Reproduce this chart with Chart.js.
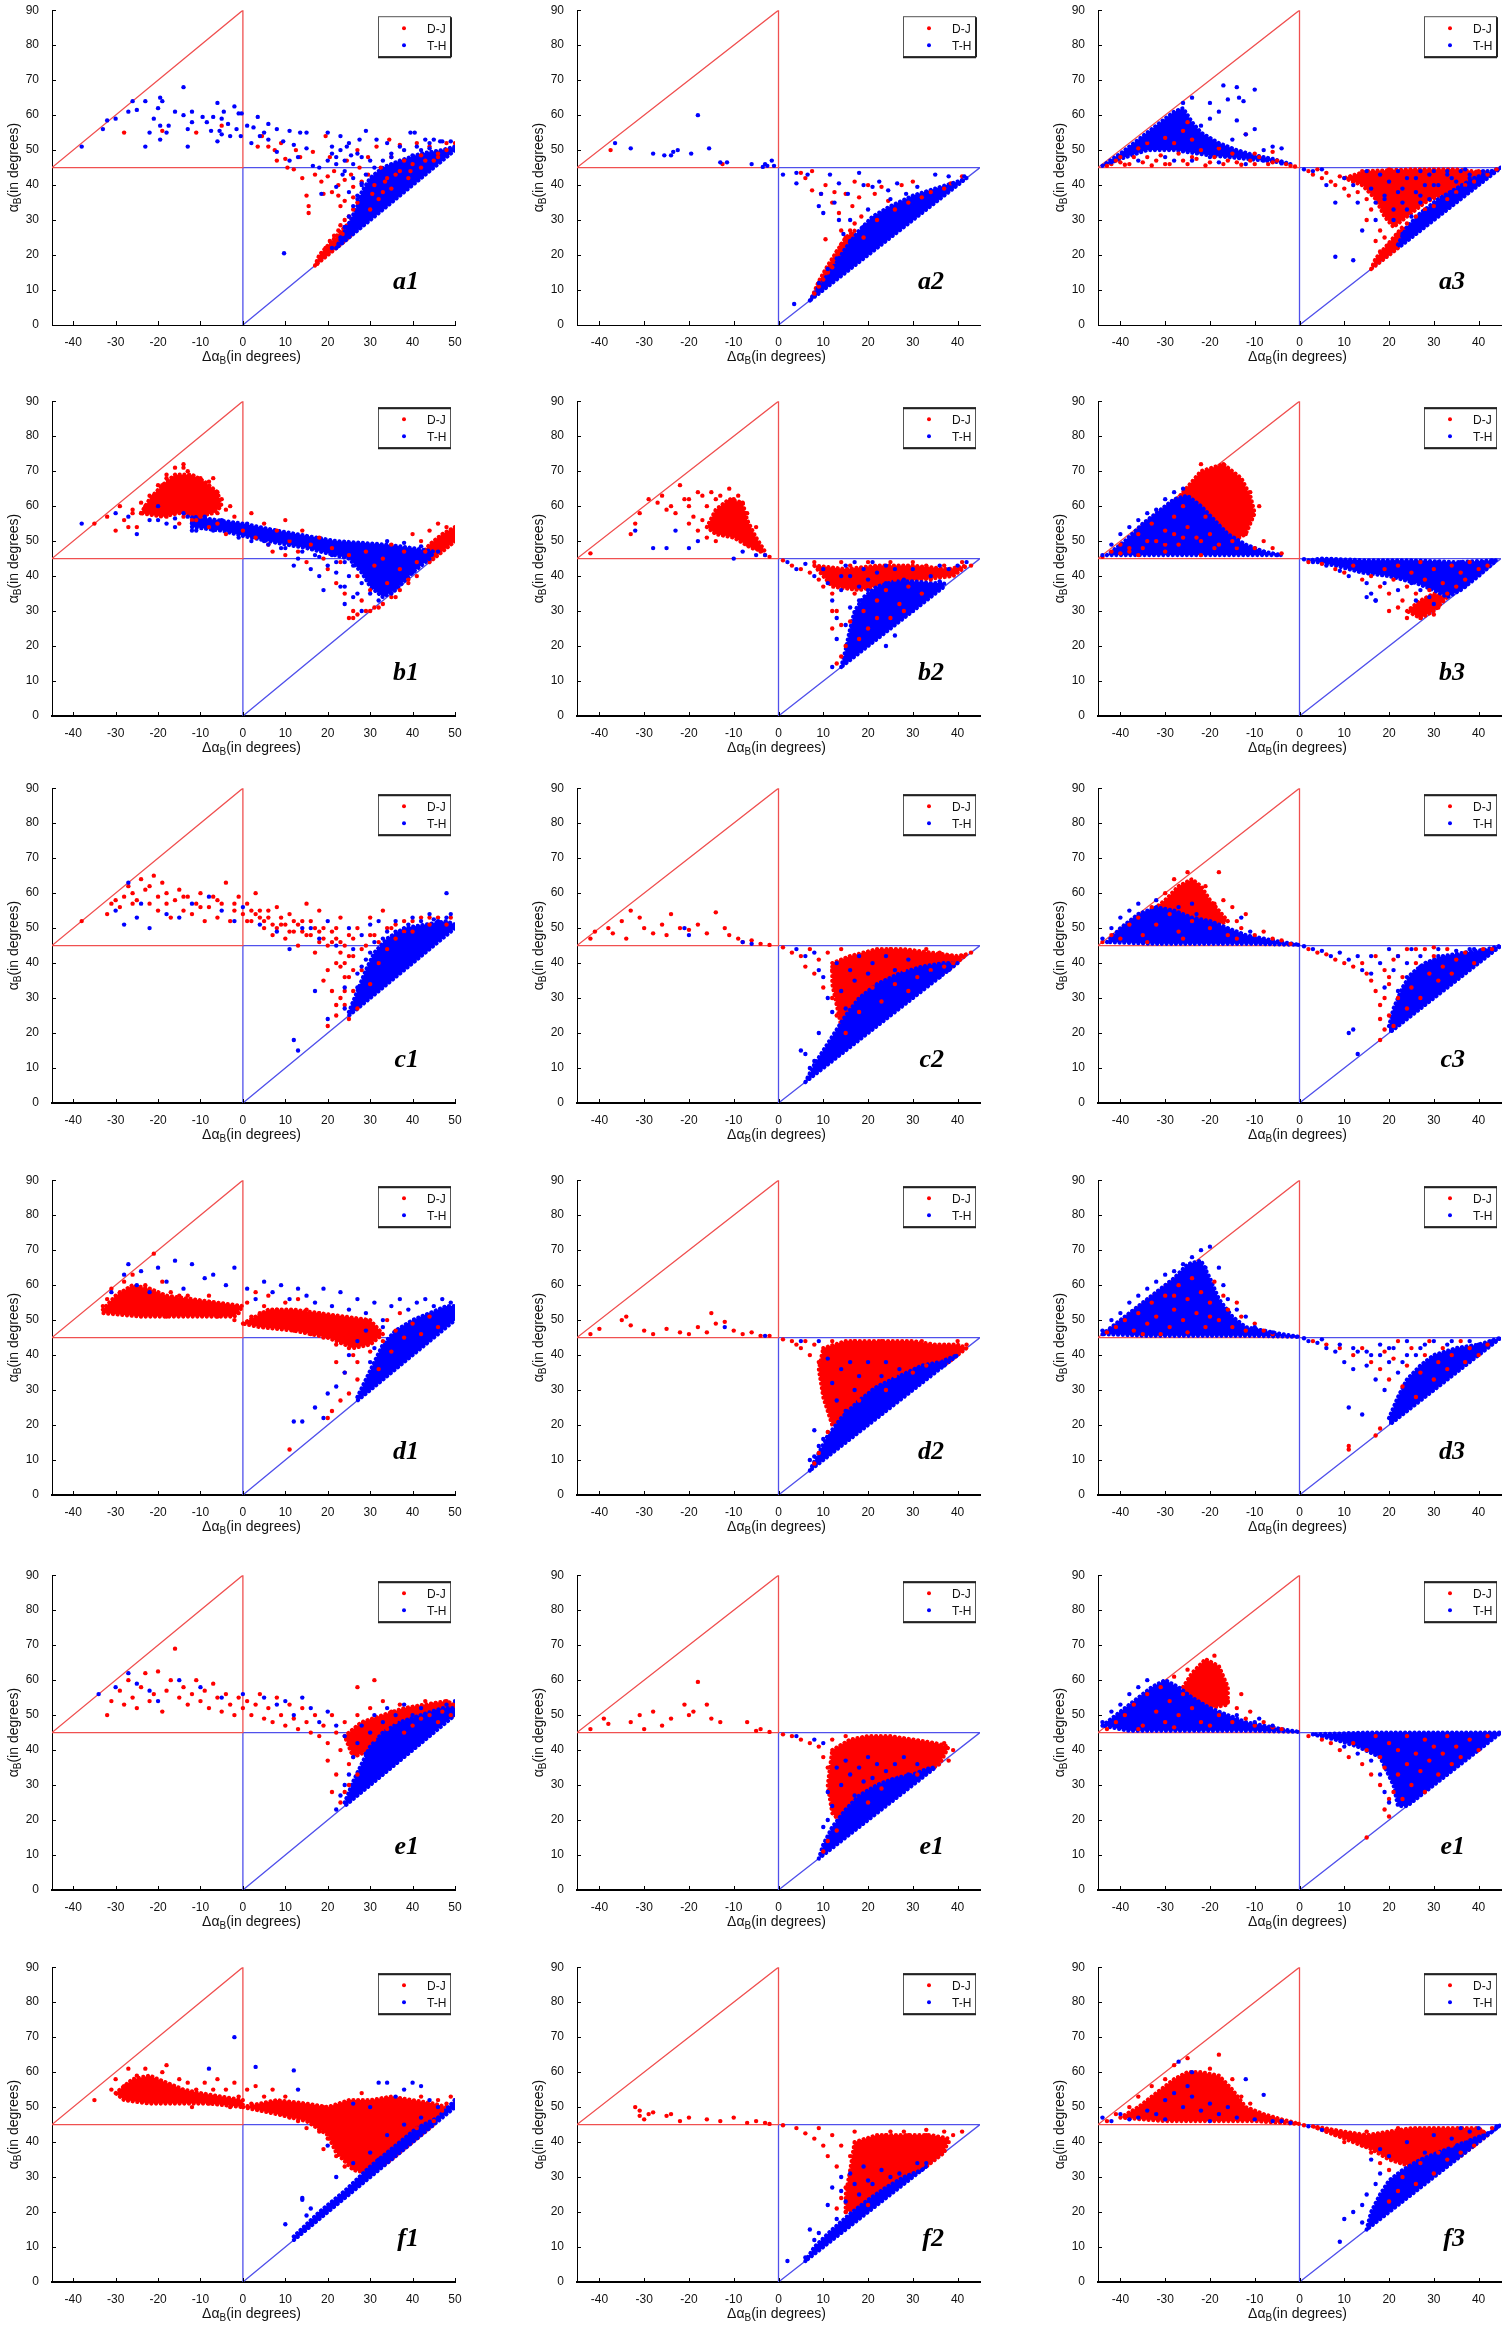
<!DOCTYPE html>
<html>
<head>
<meta charset="utf-8">
<script src="https://cdn.jsdelivr.net/npm/chart.js@4.4.1/dist/chart.umd.min.js"></script>
<style>
  html, body { margin: 0; padding: 0; background: #fff; overflow: hidden; }
  #wrap { position: relative; width: 1506px; height: 2328px; }
  #wrap canvas { position: absolute; }
</style>
</head>
<body>
<div id="wrap"></div>
<script>
// ---- tick labels / boundaries ----
const xTicksWide = [-40, -30, -20, -10, 0, 10, 20, 30, 40, 50];
const xTicksNarrow = [-40, -30, -20, -10, 0, 10, 20, 30, 40];
const yTicks = [0, 10, 20, 30, 40, 50, 60, 70, 80, 90];
const redTriangle = [[-45, 45], [0, 90], [0, 45], [-45, 45]];
const blueTriangle = [[0, 0], [45, 45], [0, 45], [0, 0]];

const panelIds = ['a1','a2','a3','b1','b2','b3','c1','c2','c3','d1','d2','d3','e1a','e1b','e1c','f1','f2','f3'];
const panelLabels = ['a1','a2','a3','b1','b2','b3','c1','c2','c3','d1','d2','d3','e1','e1','e1','f1','f2','f3'];

// ---- a1 ----
const a1_DJ = [[-28,55],[-19,55.5],[-11,55],[-5,57],[3.5,51],[4.5,54],[6,51],[7.5,50],[8,47],[9,52],[10,47.5],[10.5,45],[12,44.5],[12.5,50],[13.5,48],[14,42],[15,37],[15.5,34],[15.5,32],[16.5,49.5],[17,43],[18.5,41],[19,37.5],[19.5,54],[20.5,48],[20,42.5],[21,38],[21.5,44],[22.5,40],[22.5,37],[24,35.5],[23,34],[24,41.5],[24.5,47],[25.5,43],[26,39.5],[26,36.5],[27,50],[27.5,45],[28,41],[29.5,48],[29.5,43],[30.5,37.5],[31.5,51],[32.5,45],[33.5,41],[34.5,53],[35,48],[36,43],[37,51.5],[38,47],[39.5,44],[41,52],[42,48.5],[44,51],[46,48],[48,52],[50,52],[17.5,17.5],[18.5,19.5],[19.5,22],[20.5,24],[21.5,25.5],[22.5,27],[23,28.5],[24,30],[25,31],[26,33],[27,35],[19,20],[21,22.5],[23.5,26],[31,40],[34,42],[37,44],[40,46],[43,47],[46,49],[32,36],[35,39],[39,42],[42,45],[45,47],[48,50],[30,33],[33,38]];
const a1_TH = [[-38,51],[-33,56],[-32,58.5],[-30,59],[-26,64],[-27,61],[-25,61.5],[-23,64],[-23,51],[-22,55],[-21,59],[-20,62],[-19.5,65],[-19.5,53],[-19,64],[-19.5,57],[-18,55],[-17.5,57],[-16,61],[-14,68],[-14,60],[-13,51],[-13,56],[-12,61],[-12,58],[-9.5,59.5],[-8.5,58],[-7.5,55.5],[-7,59.5],[-6,63.5],[-6,52.5],[-5.5,55.5],[-5,59],[-5,54.5],[-4.5,61],[-3.5,57.5],[-3,54],[-2,62.5],[-1,60.5],[-1.5,56],[-0.5,54],[-0.3,60.5],[1,57],[2,52],[2.5,56.5],[3.5,59.5],[4,54],[5,55],[6,57.5],[6,53],[8,56],[8,49.5],[9.5,52.5],[9.7,20.5],[11,55.5],[11,47],[12,51.5],[13,48],[13.5,55],[15,55],[15,50.5],[16.5,45.5],[18,45],[18.5,37.5],[20,55],[21,51],[22,39.5],[22,48],[23,54],[23.5,43],[24.5,51],[25.5,48.5],[27.5,53],[28,48],[29,55.5],[30,47],[31.5,53],[34,52],[35,48],[37,51],[39.5,55],[40.5,55],[42,50],[43,53],[45,53],[46.5,52.5],[49,52.5],[20,47],[21,49],[22,46],[23,50],[24,47],[25,52],[26,46],[27,49],[24,44],[26,42],[28,40],[25,38],[27,36],[23,25],[24,28],[25,31],[26,34],[27,37],[28,40.5],[29,43],[31,45],[33,47],[35,49],[38,50],[41,51],[44,52],[47,52.5],[21,22],[29,32],[32,41],[36,46],[40,48.5],[44,50.5]];
const a1_DJ_core = [[[17,17],[18,20],[21,24],[24,28],[26,30],[27,28],[25,25],[17,17]]];
const a1_TH_core = [[[22,22],[25,29],[27,34],[28,38],[30,42],[33,45],[37,47],[42,49],[47,50],[50,51],[50,50],[22,22]]];

// ---- a2 ----
const a2_DJ = [[-37.5,50],[-12.5,46],[5,43.5],[6,42],[7.5,44],[7.5,38.5],[9.5,37.5],[10.5,40],[10.5,24.5],[12,35],[12.5,38],[13.5,32],[14,27],[15,37.5],[16.5,34],[17,41],[18,36.5],[18.5,31],[20,40],[21.5,37.5],[23,39.5],[24.5,35.5],[27.5,40],[30,41],[32,36.5],[38.5,40.5],[41,42.5],[12.5,19],[12,16.5],[8,9],[9,11],[10,13],[11,15],[13,21],[14,23],[15,25],[16,27],[17,29],[26,33],[29,35],[34,38],[37,39],[22,30],[19,25]];
const a2_TH = [[-36.5,52],[-33,50.5],[-28,49],[-25.5,48.5],[-24,48.5],[-23.5,49.5],[-22.5,50],[-19.5,49],[-18,60],[-15.5,50.5],[-13,46.5],[-11.5,46.5],[-6,46],[-3.5,45.2],[-3,46],[-1.5,47],[-2.5,45.5],[-1,45.5],[1,43],[4,43.5],[4,40.5],[6.5,43],[9,34],[10,32],[11.5,43],[13.5,40.5],[13.5,30],[15.5,37.5],[18,43.5],[19,40],[21,39.5],[22.5,41],[24.5,38.5],[26.5,40.5],[28.5,37.5],[31,39.5],[35,43],[38,42.5],[41.5,42.5],[3.5,6],[9.5,37.5],[12.5,35],[14.5,26],[16,30],[20,33],[25,36],[30,36],[33,38],[36,39],[39,40.5],[27,34],[23,31.5],[19,28],[16,24],[13,19],[11,16],[9,12]];
const a2_DJ_core = [[[7.5,8],[9,12.5],[11,17],[13,21],[15,25],[17,27],[16,23],[13,17],[10,11],[7.5,8]]];
const a2_TH_core = [[[7,7],[9,11],[12,16],[15,22],[18,27],[21,31],[25,34],[30,37],[35,39],[40,41],[42,42],[7,7]]];

// ---- a3 ----
const a3_DJ = [[-34,52],[-30,53.5],[-28,52],[-25,58],[-24,53],[-22,50],[-18,50.5],[-12,54.5],[-10,49],[-6,49.5],[-36,50.5],[-40,48],[-38,46],[-30,46],[-26,47],[-20,46.5],[-14,46.5],[-26,55.5],[-42,46],[-40,46.5],[-34,48],[-32,47],[-24,48],[-16,47],[-10,46],[-6,46.5],[-2,45.5],[-43,45.5],[-41,47],[-39,45.8],[-37,48],[-35,46.5],[-33,45.6],[-31,48.5],[-29,46],[-27,49],[-25,46],[-23,47.5],[-21,45.6],[-19,48],[-17,46],[-15,49],[-13,45.8],[-11,47],[-9,48],[-7,46],[-5,47],[-3,46],[-1,45.3],[2,44],[3,43],[4,44.5],[5,42],[6,43.5],[7,41],[8,40],[9,42.5],[10,39],[11,37],[12,41],[13,38],[14,44],[15,36],[15,30],[16,33],[16,40],[17,42.5],[18,38],[18,27],[19,35],[20,44.5],[20,31],[21,40],[22,36],[23,43],[23,33],[24,39],[25,44],[25,36],[26,41],[27,38],[28,44],[28,33],[29,40],[30,37],[31,43],[32,39],[33,41],[34,44],[35,38],[36,42],[37,40],[38,43],[39,41],[40,44],[42,43],[44,44.5],[19,25],[20,23],[21,29],[17,24],[18,21],[22,26],[30,34],[33,36],[26,31],[24,29]];
const a3_TH = [[-17,68.5],[-14,68],[-13.5,65],[-12.5,64],[-10,67.3],[-20,63.5],[-18,61],[-16,64.5],[-20,59],[-22,57],[-26,63.5],[-24,65],[-24,56],[-14,58.5],[-10,56],[-12,54.5],[-6,51],[-4,50.5],[-22,53],[-18,51.5],[-15,53],[-28,60],[-30,57.5],[-32,55],[-26,53],[-34,53],[-8,50],[-20,48],[-28,47],[-16,48.5],[-42,46.5],[-36,47],[-30,48],[-24,47],[-18,46.5],[-12,46],[-8,47],[-4,46.2],[1,44.5],[3,44],[5,44.5],[6,40],[8,35],[8,19.5],[12,18.5],[10,42],[12,40],[13,35],[14,27],[15,44],[16,39],[17,35],[17,30],[18,43],[19,37],[20,41],[21,33],[22,44],[22,38],[23,35],[24,42],[25,31],[26,38],[27,44],[27,35],[28,40],[29,36],[30,44],[31,40],[32,35],[33,43],[34,38],[35,41],[36,44],[37,39],[38,42],[40,41],[41,44],[43,44],[28,32],[31,33],[26,29],[23,26],[35,37],[21,30],[24,33],[27,37],[30,40],[34,42],[38,43],[42,44],[19,36],[23,39],[26,42],[29,43],[33,44],[37,44.5]];
const a3_DJ_core = [[[16,16],[17,19],[19,22],[21,25],[23,28],[25,27],[22,22],[16,16]],[[10,42],[14,40],[17,36],[19,31],[21,28],[24,31],[28,35],[33,38],[38,41],[42,43.5],[35,44.5],[25,44.5],[15,44],[10,42]]];
const a3_TH_core = [[[-44,45.5],[-40,49],[-35,54],[-31,58],[-28,61],[-26,62],[-24,58],[-22,55],[-18,52],[-14,50],[-10,48.5],[-6,47.5],[-2,46],[-6,46.8],[-12,47.5],[-20,48.5],[-28,50],[-34,50],[-40,47.5],[-44,45.5]],[[22,23],[24,28],[27,32],[31,36],[35,39],[39,42],[43,44],[45,45],[22,22]]];

// ---- b1 ----
const b1_DJ = [[-35,55],[-32,57],[-30,53],[-29,60],[-28,56],[-26,58],[-25,54],[-24,61],[-22,59],[-21,63],[-19,66],[-18,69],[-16,71],[-14,72],[-13,70],[-11,67],[-10,64],[-7,68],[-5,62],[-3,60],[-2,57],[-9,60],[-15,62],[-17,58],[-12,56],[-6,55],[0,53],[2,58],[3,51],[5,55],[6,49],[8,53],[10,56],[11,50],[13,47],[14,53],[16,49],[18,51],[19,45],[20,42],[21,48],[22,38],[23,44],[24,35],[25,46],[26,30],[26,28],[27,40],[28,33],[29,47],[30,36],[31,43],[32,31],[33,45],[34,38],[35,49],[36,34],[37,42],[38,47],[39,39],[40,52],[41,44],[42,50],[43,47],[44,53],[45,49],[46,55],[47,51],[48,54],[49,52],[50,50],[10,46],[15,44],[7,47],[-4,52],[-8,54],[-23,60],[-22,63],[-20,66],[-18,68],[-14,71],[-10,68],[-8,67],[-6,64],[-4,59],[-6,58],[-10,57],[-14,57],[-18,57],[-20,59],[-24,58],[-26,59],[-27,54],[-15,55],[-11,56],[30,30],[31,31],[33,32],[35,34],[37,36],[39,38],[41,40],[29,30],[27,29],[25,28]];
const b1_TH = [[-38,55],[-30,58],[-27,57],[-25,52],[-22,56],[-20,60],[-18,55],[-16,54],[-14,58],[-12,53],[-9,57],[-7,53],[-5,56],[-3,54],[-1,51],[1,55],[3,53],[5,50],[7,52],[9,48],[11,51],[13,45],[15,49],[17,46],[18,40],[19,36],[20,43],[21,46],[22,41],[23,37],[24,44],[25,40],[26,34],[27,45],[28,38],[29,42],[30,35],[31,46],[32,40],[33,37],[34,44],[35,41],[36,45],[37,38],[38,43],[39,46],[40,41],[42,44],[44,46],[12,43],[16,42],[-10,55],[28,30],[24,32],[-11,53],[-13,57],[2,50],[6,49],[10,48],[14,47],[18,45.5],[22,44],[26,43],[30,48],[34,50],[38,49.5],[42,48.5],[46,47],[24,37],[27,35],[32,33],[35,35],[-20,56],[-16,56.5],[-12,55],[-8,56],[-4,55]];
const b1_DJ_core = [[[-24,58],[-22,62],[-19,66],[-16,69],[-12,69],[-9,67],[-6,64],[-5,60],[-7,58],[-11,57],[-15,58],[-19,57],[-24,58]],[[44,44],[47,47],[50,50],[50,54],[47,52],[44,49],[42,46],[44,44]]];
const b1_TH_core = [[[-12,54],[-5,53],[0,51.5],[8,49.5],[15,48],[20,46.5],[25,45],[28,41],[30,37],[33,34],[36,36],[40,41],[44,45],[45,47],[40,48],[34,49],[28,49.5],[22,50],[15,51.5],[8,53],[0,55],[-6,56],[-12,57],[-12,54]]];

// ---- b2 ----
const b2_DJ = [[-42,46.5],[-33,52],[-32,55],[-31,58],[-29,62],[-27,61],[-26,63],[-25,59],[-24,60],[-23,58],[-22,66],[-21,62],[-20,60],[-19,57],[-18,64],[-17,56],[-16,60],[-15,55],[-14,62],[-13,58],[-12,53],[-11,65],[-10,57],[-9,51],[-8,55],[-7,49],[-6,52],[-5,48],[-4,47],[-3,46],[-2,45.5],[-14,50],[-12,60],[-18,53],[-10,62],[-16,51],[-20,55],[-8,61],[-20,62],[-17,63],[-15,64],[-13,63],[-9,63],[-7,58],[-5,54],[1,44.5],[3,43],[5,42],[7,41],[8,44],[9,39],[10,37],[11,42],[12,35],[12,25],[13,30],[13,40],[14,17],[14,44],[15,38],[16,43],[17,35],[18,41],[19,30],[20,44],[21,38],[22,33],[23,42],[24,36],[25,44],[26,39],[27,32],[28,42],[29,37],[30,44],[31,40],[32,35],[33,43],[34,39],[35,41],[37,43],[39,41],[41,44],[43,43],[15,20],[13,15],[16,27],[18,22],[20,25],[25,28],[28,30],[22,28],[18,40],[22,39],[26,40],[30,40],[34,40.5],[12,30],[14,26]];
const b2_TH = [[-32,53],[-28,48],[-25,48],[-23,53],[-20,48],[-18,50],[-10,45],[-8,47],[-5,46],[-3,46],[2,44],[4,42],[6,43.5],[8,40],[10,42],[11,38],[12,33],[13,28],[13,22],[14,36],[15,43],[16,40],[17,44],[18,37],[19,42],[20,39],[21,44],[22,41],[24,43],[26,42],[28,39],[30,42],[32,38],[34,40],[36,43],[38,42],[40,43],[42,44],[12,14],[14,40],[24,20],[26,23],[30,30],[33,34],[20,36],[24,38],[28,37],[32,37],[36,38.5],[15,26],[16,31],[18,33]];
const b2_DJ_core = [[[-16,54],[-14,59],[-11,62],[-8,61],[-7,56],[-5,51],[-3,47],[-6,48],[-10,51],[-14,52],[-16,54]],[[8,43],[15,42],[22,43],[30,43],[38,42],[42,43],[39,40],[32,39],[25,38],[18,36],[12,37],[8,43]]];
const b2_TH_core = [[[14,14],[15,19],[16,25],[17,30],[19,34],[22,37],[26,38.5],[30,38.5],[34,38],[37,38],[37,37],[14,14]]];

// ---- b3 ----
const b3_DJ = [[-44,45.5],[-42,47],[-40,49],[-38,47],[-36,52],[-35,48],[-33,55],[-32,50],[-30,53],[-28,57],[-27,49],[-26,60],[-25,54],[-24,66],[-23,51],[-22,72],[-21,57],[-20,65],[-19,48],[-18,62],[-17,55],[-16,67],[-15,50],[-14,63],[-13,58],[-12,52],[-11,64],[-10,48],[-9,60],[-8,50],[-6,48],[-4,46.5],[-20,52],[-28,52],[-36,46],[-17,72],[-22,46],[-30,47],[-38,48],[-34,50],[-30,49],[-26,51],[-22,50],[-18,49],[-14,48],[-40,46.5],[2,44],[5,43.5],[8,42],[10,41],[12,43],[14,39],[16,40],[18,37],[19,42],[20,35],[21,39],[22,43],[23,33],[24,28],[24,37],[25,41],[26,30],[26,35],[27,44],[27,28],[28,32],[28,39],[29,36],[30,29],[30,42],[31,33],[32,38],[33,35],[34,43],[35,37],[36,41],[37,39],[38,44],[40,42],[42,43],[20,30],[22,31],[29,31],[31,31]];
const b3_TH = [[-44,46],[-42,49],[-40,52],[-38,54],[-36,56],[-34,58],[-32,59],[-30,62],[-28,64],[-26,65],[-24,60],[-22,57],[-20,55],[-18,52],[-16,50],[-14,49],[-12,48],[-8,47],[-5,46],[-36,48],[-30,50],[-24,52],[-32,53],[-26,55],[-20,49],[-15,47],[1,44.8],[3,44],[6,43],[9,41.5],[11,40],[13,42],[15,38],[16,35],[17,33],[18,41],[19,38],[21,44],[22,36],[23,40],[25,38],[26,44],[27,36],[28,42],[29,34],[30,39],[31,44],[32,36],[33,40],[34,38],[35,42],[36,44],[37,37],[38,40],[39,42],[41,44],[43,44.5],[15,34],[17,33],[30,32],[26,33]];
const b3_DJ_core = [[[-30,58],[-26,64],[-22,70],[-17,72],[-13,68],[-11,63],[-10,58],[-12,52],[-15,50],[-20,55],[-25,56],[-30,58]],[[24,30],[27,33],[30,35],[33,34],[30,30],[27,28],[24,30]]];
const b3_TH_core = [[[-43,46],[-39,50],[-35,55],[-31,59],[-28,62],[-25,63],[-22,60],[-19,56],[-16,52],[-12,49],[-8,47],[-4,46],[-10,46],[-20,46],[-30,46],[-43,46]],[[2,44.5],[8,43],[14,41],[20,40],[26,38],[30,36],[33,34],[36,36],[40,40],[44,44.5],[35,44],[25,44.5],[15,44.5],[5,45],[2,44.5]]];

// ---- c1 ----
const c1_DJ = [[-38,52],[-32,54],[-31,57],[-29,56],[-28,59],[-27,62],[-26,60],[-25,58],[-24,64],[-23,61],[-22,57],[-21,65],[-20,55],[-19,63],[-18,60],[-17,53],[-16,58],[-15,61],[-14,55],[-13,59],[-12,54],[-11,57],[-10,60],[-9,52],[-8,56],[-7,59],[-6,53],[-5,57],[-4,63],[-3,52],[-2,55],[-1,59],[0,54],[1,57],[2,52],[3,60],[4,55],[5,50],[6,53],[7,48],[8,56],[9,51],[10,47],[11,54],[12,49],[13,45],[14,52],[15,57],[16,48],[17,43],[18,55],[19,50],[20,38],[20,22],[21,46],[22,40],[22,25],[23,53],[24,36],[24,28],[25,48],[26,32],[26,42],[27,50],[28,38],[29,45],[30,53],[30,34],[31,48],[32,40],[33,55],[34,44],[35,50],[36,47],[38,52],[40,49],[42,53],[44,51],[46,53],[48,51],[49,53],[27,27],[23,30],[25,24],[19,35],[21,32],[-30,58],[-26,57],[-22,62],[-20,59],[-18,57],[-14,59],[-10,56],[-6,58],[-2,57],[2,55],[6,55],[10,51],[14,49],[18,49],[22,50],[24,45],[26,47],[23,39],[25,36],[22,28],[24,32],[26,38],[28,44],[30,48],[32,46],[34,50],[36,51],[38,49],[40,52],[44,53],[1,52],[3,54],[5,52],[7,51],[9,53],[11,49],[13,51],[15,48],[17,50],[19,47],[21,49],[23,46],[25,42],[24,40],[23,43],[22,47],[20,45],[18,46],[16,52],[12,52],[8,50],[4,53]];
const c1_TH = [[-30,55],[-28,51],[-27,63],[-25,53],[-24,57],[-22,50],[-18,54],[-15,53],[-12,57],[-8,59],[-5,55],[-2,52],[0,56],[4,51],[8,49],[11,44],[12,18],[13,15],[14,50],[17,32],[18,47],[20,24],[22,45],[24,33],[25,50],[26,44],[27,37],[28,48],[29,41],[30,51],[31,46],[32,52],[34,49],[36,52],[38,48],[40,53],[42,50],[44,54],[46,52],[48,60],[49,54],[20,52],[16,50],[26,28],[27,33],[28,39],[30,43],[33,47],[36,49],[39,51],[42,52],[45,52.5],[48,53],[24,27],[29,36],[31,40]];
const c1_DJ_core = [];
const c1_TH_core = [[[25,26],[27,32],[29,38],[31,43],[34,47],[38,50],[43,51],[48,52],[50,51],[50,50],[25,25]]];

// ---- c2 ----
const c2_DJ = [[-42,47],[-41,49],[-38,50],[-37,48.5],[-35,52],[-33,55],[-31,53],[-30,50],[-28,48.5],[-26,51],[-24,54],[-22,50],[-20,49.5],[-18,51],[-16,48.5],[-14,54.5],[-12,50],[-11,48],[-9,47],[-8,46],[-6,46.5],[-4,45.5],[-2,45.2],[-25,48],[-34,47],[1,44.5],[3,43],[5,42],[6,39],[7,44],[8,37],[9,41],[10,33],[11,43],[12,30],[12,38],[13,25],[14,35],[14,44],[15,20],[16,31],[17,40],[18,26],[19,36],[20,43],[21,33],[22,40],[23,29],[24,37],[25,44],[26,34],[27,41],[28,38],[29,32],[30,43],[31,36],[32,40],[33,44],[34,38],[35,41],[36,43],[37,39],[38,42],[39,40],[41,42],[43,43]];
const c2_TH = [[-21,50],[-20,48],[-8,46],[-6,45.5],[4,44],[6,42],[8,43],[9,38],[10,36],[11,30],[12,26],[13,40],[14,32],[15,27],[16,38],[17,35],[18,42],[19,30],[20,37],[21,40],[22,31],[24,42],[25,33],[26,38],[28,35],[29,41],[30,36],[32,34],[34,37],[36,36],[38,38],[5,15],[6,14],[7,10],[8,12],[9,20],[10,13],[15,22]];
const c2_DJ_core = [[[12,40],[16,42],[22,44],[28,44],[34,43],[40,42],[42,42.5],[38,38],[32,35],[26,32],[21,28],[17,24],[14,22],[13,28],[12,34],[12,40]]];
const c2_TH_core = [[[6,6],[8,11],[10,15],[12,19],[15,25],[18,30],[22,34],[27,37],[32,39],[37,40],[40,40],[6,6]]];

// ---- c3 ----
const c3_DJ = [[-44,46],[-42,48],[-40,47],[-38,51],[-36,53],[-35,48],[-33,56],[-32,51],[-30,60],[-29,54],[-28,64],[-27,49],[-26,57],[-25,66],[-24,52],[-23,60],[-22,55],[-21,62],[-20,50],[-19,57],[-18,53],[-17,58],[-16,48],[-15,56],[-14,52],[-13,50],[-12,54],[-10,48],[-8,49],[-6,47],[-4,46.5],[-2,45.5],[-18,66],[-26,47],[-34,46],[-14,47],[2,44],[4,43],[6,42.5],[8,41],[10,40],[12,39],[14,40],[15,37],[16,35],[17,32],[17,42],[18,28],[18,18],[19,38],[20,25],[20,34],[21,22],[21,41],[22,30],[23,36],[24,27],[24,44],[25,33],[26,40],[27,30],[28,44],[29,37],[30,42],[31,35],[32,39],[33,44],[34,37],[35,41],[37,43],[39,40],[41,44],[43,44],[19,21],[18,24],[19,30],[20,36],[22,42],[26,44],[30,44.5]];
const c3_TH = [[-44,47],[-42,50],[-40,53],[-38,55],[-36,57],[-34,52],[-32,58],[-30,53],[-29,49],[-27,56],[-25,50],[-23,54],[-21,48],[-19,51],[-17,49],[-15,47],[-13,53],[-11,49],[-9,47],[-7,46],[-38,47],[-28,47],[-24,57],[1,44.8],[3,44],[5,43.5],[7,42],[9,43],[11,41],[12,21],[13,42],[11,20],[13,14],[14,38],[16,42],[18,40],[19,33],[20,44],[21,38],[22,42],[23,28],[24,40],[25,44],[26,35],[27,42],[29,40],[30,33],[31,44],[32,37],[34,41],[36,38],[38,44],[40,42],[42,43],[24,31],[28,35],[16,37],[21,25],[22,32],[24,36],[27,39],[31,42],[35,43.5],[39,44]];
const c3_DJ_core = [[[-34,54],[-30,58],[-27,62],[-24,64],[-22,62],[-20,58],[-18,55],[-16,52],[-20,50],[-24,50],[-28,51],[-34,54]]];
const c3_TH_core = [[[-43,46],[-40,50],[-36,54],[-32,56],[-28,55],[-24,53],[-20,52],[-16,50],[-12,48],[-8,47],[-4,46],[0,45.2],[-10,45.5],[-20,45.5],[-32,45.5],[-43,46]],[[20,22],[21,27],[23,33],[25,37],[28,40],[32,42],[37,43],[42,44],[45,45],[20,20]]];

// ---- d1 ----
const d1_DJ = [[-33,54],[-32,56],[-30,53],[-29,58],[-28,61],[-27,55],[-26,63],[-25,52],[-24,57],[-23,60],[-22,54],[-21,69],[-20,56],[-19,61],[-18,51],[-17,58],[-16,54],[-15,57],[-14,52],[-12,55],[-10,53],[-8,57],[-6,51],[-4,54],[-2,50],[-1,52],[1,55],[2,51],[3,58],[4,49],[5,54],[6,57],[7,50],[8,53],[9,48],[10,55],[11,51],[12,47],[13,56],[14,50],[15,53],[16,46],[17,49],[18,52],[19,45],[20,51],[21,47],[22,38],[22,43],[23,50],[24,35],[24,46],[25,29],[25,42],[26,48],[27,38],[27,33],[28,45],[29,50],[30,41],[31,47],[32,36],[33,44],[34,50],[35,41],[36,47],[37,52],[38,45],[40,49],[42,46],[44,51],[46,48],[11,13],[20,22],[21,24],[23,27],[26,40],[-31,59],[-27,58],[-23,57],[-19,55],[-13,57],[-7,55],[-3,53],[4,52],[9,51],[15,50],[21,49],[27,47],[31,45]];
const d1_TH = [[-31,58],[-28,63],[-27,66],[-25,60],[-24,64],[-22,58],[-20,65],[-18,61],[-16,67],[-14,59],[-12,66],[-9,62],[-7,63],[-4,60],[-2,65],[1,59],[3,56],[5,61],[7,58],[9,60],[11,56],[13,59],[15,57],[17,55],[19,59],[21,54],[23,58],[25,53],[27,56],[29,52],[31,55],[33,50],[35,54],[37,56],[39,53],[41,55],[43,56],[45,54],[47,56],[49,55],[12,21],[14,21],[17,25],[19,22],[20,29],[22,31],[24,35],[25,40],[27,44],[29,47],[31,42],[33,48],[30,38]];
const d1_DJ_core = [[[-33,53],[-30,57],[-26,60],[-22,59],[-18,57],[-12,56],[-6,55],[0,54],[-2,51],[-8,51],[-16,51],[-24,51],[-33,52],[-33,53]],[[0,49],[6,53],[12,53],[18,52],[24,51],[30,50],[33,46],[30,43],[26,42],[20,45],[12,47],[4,48],[0,49]]];
const d1_TH_core = [[[27,28],[29,33],[31,38],[33,43],[36,47],[40,50],[44,52],[48,54],[50,54],[50,50],[27,27]]];

// ---- d2 ----
const d2_DJ = [[-42,46],[-40,47.5],[-35,50],[-34,51],[-33,48.5],[-30,47],[-25,47.5],[-22,46.5],[-18,48],[-15,52],[-14,49],[-12,49.5],[-10,47],[-8,46],[-6,46.5],[-4,45.5],[-2,45.5],[-28,46],[-20,46],[-16,46.5],[1,44.5],[3,44],[4,43],[5,42],[6,44],[7,40],[8,43],[9,38],[10,30],[10,41],[11,35],[12,25],[12,44],[13,38],[14,30],[15,41],[16,34],[17,44],[18,27],[19,39],[20,32],[21,42],[22,36],[23,44],[24,30],[25,40],[26,34],[27,43],[28,38],[29,42],[30,35],[31,40],[32,44],[33,37],[34,41],[36,39],[38,42],[40,44],[42,43],[8,9],[9,12],[11,18],[13,22]];
const d2_TH = [[-12,48],[-3,45.5],[5,44],[9,44],[11,39],[12,32],[13,27],[14,36],[15,24],[16,38],[17,30],[18,34],[19,26],[20,38],[21,30],[23,34],[24,38],[25,30],[27,36],[29,33],[31,36],[33,34],[35,37],[37,37],[7,10],[8,11],[8,18.5],[9,14],[10,16]];
const d2_DJ_core = [[[10,42],[15,44],[20,44],[25,44],[30,44],[35,43],[40,43],[42,42],[38,38],[33,35],[28,32],[24,27],[20,22],[16,18],[12,20],[10,28],[9,36],[10,42]]];
const d2_TH_core = [[[7,7],[9,12],[11,17],[14,22],[18,27],[22,31],[27,34],[32,37],[36,38],[40,40],[7,7]]];

// ---- d3 ----
const d3_DJ = [[-43,46.5],[-41,48],[-39,50],[-37,47],[-36,52],[-34,49],[-33,55],[-32,51],[-30,57],[-29,48],[-28,53],[-27,60],[-26,50],[-25,56],[-24,62],[-23,52],[-22,58],[-21,48],[-20,55],[-19,61],[-18,50],[-17,57],[-16,53],[-15,48],[-14,55],[-13,51],[-12,47],[-10,49],[-8,47],[-6,46],[-31,46],[-25,46.5],[-20,51],[-28,57],[-35,46],[3,44],[6,43],[9,42],[12,40],[14,42],[16,38],[18,36],[18,19],[19,41],[20,33],[21,39],[22,44],[23,31],[24,37],[25,42],[26,28],[27,35],[28,40],[29,44],[30,33],[31,38],[32,42],[33,36],[34,40],[36,44],[37,38],[38,42],[40,40],[42,43],[11,13],[11,14],[17,17]];
const d3_TH = [[-44,47],[-42,50],[-40,52],[-38,55],[-36,57],[-34,59],[-32,61],[-30,63],[-28,64],[-26,66],[-24,68],[-22,70],[-21,65],[-20,71],[-18,65],[-17,60],[-16,56],[-14,53],[-12,51],[-10,48],[-9,47],[-6,46.5],[-38,48],[-30,49],[-25,52],[-20,47],[1,44.8],[2,44],[4,43.5],[6,42],[8,41],[10,38],[11,25],[12,36],[13,41],[14,23],[15,37],[16,40],[17,33],[18,43],[19,30],[20,38],[21,42],[22,25],[23,38],[24,44],[25,30],[26,40],[28,43],[30,37],[32,40],[34,44],[36,41],[38,44],[40,43],[43,44],[26,33],[29,35],[5,44.5],[9,43],[12,42],[15,41],[18,40],[20,42],[22,35],[24,40],[27,42],[30,44],[33,43]];
const d3_DJ_core = [];
const d3_TH_core = [[[-44,46],[-40,50],[-36,54],[-32,58],[-28,62],[-25,66],[-22,67],[-20,62],[-18,56],[-15,51],[-12,48],[-8,47],[-4,46],[0,45.2],[-10,45.5],[-22,45.5],[-34,45.5],[-44,46]],[[20,22],[22,28],[24,33],[27,37],[30,40],[35,42],[40,43],[45,45],[20,20]]];

// ---- e1 (row 5, left) ----
const e1a_DJ = [[-32,50],[-31,54],[-29,57],[-28,53],[-27,60],[-26,55],[-25,52],[-24,58],[-23,62],[-22,54],[-21,56],[-20,62.5],[-19,51],[-18,57],[-17,60],[-16,69],[-15,55],[-14,58],[-13,53],[-12,56],[-11,60],[-10,54],[-9,57],[-8,52],[-7,59],[-6,55],[-5,51],[-4,56],[-3,53],[-2,50],[-1,55],[0,52],[1,54],[2,50],[3,53],[4,56],[5,49],[6,52],[7,48],[8,55],[9,50],[10,47],[11,53],[12,49],[13,46],[14,52],[15,48],[16,45],[17,50],[18,44],[19,47],[20,37],[20,42],[21,28],[21,50],[22,33],[22,45],[23,25],[23,40],[24,48],[25,36],[26,44],[27,58],[27,50],[28,41],[29,46],[30,52],[31,60],[31,43],[32,49],[33,54],[34,46],[35,51],[36,48],[37,53],[38,45],[39,50],[40,47],[41,52],[42,49],[43,54],[44,50],[45,53],[46,48],[47,51],[48,54],[49,50],[25,30],[27,33],[24,28]];
const e1a_TH = [[-34,56],[-30,58],[-27,62],[-25,59],[-22,57],[-20,54],[-15,60],[-10,58],[-5,55],[0,56],[5,55],[8,53],[10,54],[12,50],[14,55],[16,52],[18,48],[20,51],[22,47],[24,44],[25,33],[26,38],[27,42],[28,47],[29,39],[30,45],[31,50],[32,43],[33,48],[34,52],[36,50],[38,53],[40,50],[42,52],[44,48],[46,51],[48,53],[50,54],[23,27],[22,23],[24,30]];
const e1a_DJ_core = [[[24,44],[28,48],[33,50],[38,52],[43,53],[48,54],[50,53],[50,50],[45,48],[40,46],[35,43],[30,40],[26,38],[24,44]]];
const e1a_TH_core = [[[24,25],[26,31],[28,36],[30,41],[33,45],[37,48],[42,50],[47,52],[50,52],[50,50],[24,24]]];

// ---- e1 (row 5, middle) ----
const e1b_DJ = [[-42,46],[-39,49],[-38,47.5],[-33,48],[-31,50],[-30,46],[-28,51],[-26,47],[-24,49],[-21,53],[-20,50],[-19,51],[-18,59.5],[-16,53],[-15,49],[-13,48],[-7,48],[-4,46],[-2,45.2],[-5,45.5],[1,44.5],[3,44],[5,43],[7,42],[9,41],[10,38],[11,35],[12,43],[13,32],[14,39],[15,28],[15,44],[16,36],[17,41],[18,30],[19,38],[20,25],[20,43],[21,34],[22,40],[23,29],[24,37],[25,43],[26,33],[27,39],[28,42],[29,36],[30,40],[31,33],[32,38],[33,42],[34,36],[36,40],[38,37],[37,42],[39,40],[10,11],[11,14],[13,17]];
const e1b_TH = [[4,44],[8,43],[10,42],[11,28],[12,24],[13,35],[14,30],[15,37],[16,33],[17,27],[18,35],[19,31],[20,38],[21,32],[22,36],[24,34],[26,36],[28,38],[29,33],[31,36],[33,34],[10,18],[11,20]];
const e1b_DJ_core = [[[12,40],[16,43],[20,44],[25,44],[30,43],[35,42],[38,41],[36,36],[32,33],[26,28],[20,22],[15,18],[12,22],[11,30],[12,40]]];
const e1b_TH_core = [[[9,9],[10,13],[12,18],[15,23],[18,27],[22,30],[26,32],[30,33],[34,35],[35,35],[9,9]]];

// ---- e1 (row 5, right) ----
const e1c_DJ = [[-43,46],[-41,48],[-39,50],[-37,53],[-35,47],[-34,56],[-32,51],[-31,58],[-30,48],[-29,54],[-28,61],[-27,50],[-26,56],[-25,63],[-24,52],[-23,59],[-22,48],[-21,62],[-20,55],[-19,67],[-18,50],[-17,60],[-16,54],[-15,48],[-14,52],[-13,56],[-12,49],[-11,51],[-10,47],[-8,48],[-6,46.5],[-4,46],[-36,46],[-28,46.5],[-20,47],[2,44],[5,43],[7,42],[9,40],[11,38],[12,42],[14,36],[15,40],[16,33],[17,44],[18,30],[18,38],[19,23],[19,35],[20,42],[20,21],[21,28],[22,40],[22,33],[23,26],[24,44],[24,36],[25,30],[26,39],[27,34],[28,43],[28,28],[29,37],[30,41],[31,33],[32,39],[33,44],[34,36],[35,41],[36,38],[38,43],[40,40],[42,44],[15,15],[20,26]];
const e1c_TH = [[-44,48],[-42,51],[-40,53],[-38,56],[-36,58],[-34,60],[-32,57],[-30,53],[-28,56],[-26,52],[-24,49],[-22,53],[-20,50],[-18,48],[-16,47],[-14,50],[-12,47],[-10,48],[-9,49],[-6,47],[-40,47],[-32,48],[-26,47],[10,41],[13,39],[16,37],[18,33],[19,28],[20,25],[21,40],[25,42],[30,44],[35,44],[40,44.5],[43,44.5]];
const e1c_DJ_core = [[[-26,58],[-24,62],[-21,66],[-18,64],[-16,58],[-16,53],[-20,52],[-24,54],[-26,58]]];
const e1c_TH_core = [[[-44,47],[-40,51],[-36,55],[-33,58],[-30,60],[-27,58],[-24,55],[-20,52],[-16,50],[-12,48],[-8,47],[-4,46],[0,45.2],[-10,45.5],[-25,45.5],[-38,45.5],[-44,47]],[[3,44.5],[8,43],[13,41],[18,38],[21,30],[22,24],[24,24],[30,30],[38,38],[45,45],[35,45],[25,45],[15,45],[3,44.5]]];

// ---- f1 ----
const f1_DJ = [[-35,52],[-31,55],[-30,58],[-28,56],[-27,61],[-26,53],[-25,59],[-24,55],[-23,61],[-22,52],[-21,57],[-20,54],[-19,60],[-18,62],[-17,56],[-16,52],[-15,58],[-14,54],[-13,57],[-12,50],[-11,55],[-10,52],[-9,57],[-8,51],[-7,55],[-6,58],[-5,52],[-4,55],[-3,50],[-2,57],[-1,53],[1,55],[2,51],[3,56],[4,50],[5,53],[6,49],[7,55],[8,51],[9,48],[10,53],[11,47],[12,51],[13,46],[14,50],[15,44],[16,48],[17,45],[18,43],[19,38],[19,50],[20,41],[21,46],[22,36],[23,48],[24,33],[25,44],[26,50],[27,39],[28,54],[28,46],[29,35],[30,42],[31,48],[32,38],[33,45],[34,51],[35,41],[36,47],[37,43],[38,52],[39,46],[40,49],[41,44],[42,53],[43,47],[44,50],[45,46],[46,52],[47,49],[48,51],[49,53],[50,52]];
const f1_TH = [[-8,61],[-2,70],[3,61.5],[12,60.5],[13,55],[10,16.5],[14,24],[14,23.5],[15,19],[16,21],[20,39],[26,51],[30,50],[32,57],[34,57],[36,53],[38,55],[40,57],[42,56],[44,52],[46,50],[48,49],[50,52],[22,30],[26,34],[30,37],[34,42],[38,45],[42,47],[28,30],[32,35]];
const f1_DJ_core = [[[-30,54],[-26,58],[-22,59],[-18,57],[-14,55],[-10,54],[-5,53],[0,52],[0,50],[-8,51],[-15,51],[-22,51],[-28,52],[-30,54]],[[0,50],[8,52],[15,51],[20,50],[25,52],[30,52],[35,53],[40,52],[45,51],[48,50],[45,45],[40,40],[35,35],[30,31],[26,32],[22,37],[20,42],[15,46],[8,48],[0,50]]];
const f1_TH_core = [[[12,13],[18,20],[24,26],[30,33],[36,39],[41,44],[46,47],[50,52],[50,50],[12,12]]];

// ---- f2 ----
const f2_DJ = [[-32,50],[-31,47.5],[-31,49],[-29,48],[-28,48.5],[-25,47.5],[-22,46],[-20,47],[-16,46.5],[-13,46],[-10,47],[-7,45.5],[-5,46],[-3,45.5],[-2,45.2],[-30,46.5],[-24,48],[1,44.8],[4,44],[6,42.5],[8,41],[9,44],[10,39],[11,36],[12,42],[13,33],[14,39],[15,27],[16,36],[17,43],[18,31],[19,38],[20,22],[21,34],[22,41],[23,28],[24,37],[25,43],[26,32],[27,39],[28,35],[29,42],[30,37],[31,40],[32,35],[33,42],[34,38],[35,41],[36,39],[37,43],[38,40],[39,42],[41,43],[15,20],[17,25],[19,28],[14,24],[16,30],[18,35],[20,40],[24,42],[28,43],[33,43.5],[13,21]];
const f2_TH = [[2,6],[7,15],[11,22],[12,27],[13,18],[14,26],[14,30],[15,23],[16,31],[17,28],[18,25],[19,33],[20,29],[21,28],[23,32],[25,30],[27,31],[29,30],[31,34],[33,34],[6,7],[8,12],[9,14]];
const f2_DJ_core = [[[17,40],[22,42],[28,42],[34,42],[38,41],[37,37],[33,33],[28,29],[23,25],[18,21],[15,20],[15,25],[16,32],[17,40]]];
const f2_TH_core = [[[6,6],[8,10],[12,15],[16,19.5],[20,23.5],[24,27],[28,30],[32,32],[33,33],[6,6]]];

// ---- f3 ----
const f3_DJ = [[-43,46],[-41,48],[-38,50],[-36,53],[-34,51],[-33,56],[-31,53],[-30,58],[-29,50],[-28,62],[-27,55],[-26,48],[-25,64],[-24,57],[-23,52],[-22,59],[-21,54],[-20,61],[-19,50],[-18,65],[-17,56],[-16,52],[-15,58],[-14,49],[-13,53],[-12,47],[-11,51],[-10,48],[-8,47],[-6,46],[-28,47],[-22,47],[-34,47],[1,44.8],[4,44],[6,43],[8,42],[10,40],[12,41.5],[14,39],[15,43],[16,37],[17,40],[18,34],[19,42],[20,32],[21,38],[22,44],[23,30],[24,36],[25,41],[26,28],[27,34],[28,39],[29,43],[30,31],[31,37],[32,41],[33,35],[34,39],[35,43],[36,37],[37,41],[39,39],[41,43],[43,44],[22,26],[20,23]];
const f3_TH = [[-44,47],[-42,46],[-40,48],[-38,46.5],[-36,47],[-34,49],[-32,48],[-30,52],[-28,54],[-27,63],[-26,50],[-25,56],[-24,53],[-22,49],[-20,51],[-18,48],[-16,50],[-14,47],[-12,58],[-10,46.5],[-8,53.5],[-6,46],[-4,46],[-2,45.5],[-30,46.5],[-20,46],[-24,60],[2,44.5],[5,43.5],[9,11.5],[10,18],[12,20],[14,22],[15,25],[16,35],[17,28],[18,31],[18,38],[19,22],[20,36],[22,29],[24,40],[26,31],[28,37],[30,42],[32,34],[34,41],[36,44],[38,43],[40,44],[44,44.5],[14,17]];
const f3_DJ_core = [[[-40,47],[-36,50],[-32,54],[-28,58],[-25,60],[-22,60],[-18,59],[-15,55],[-12,50],[-8,48],[-4,46.5],[0,45.2],[-10,46],[-20,46],[-30,46],[-40,47]],[[3,44.5],[10,43],[15,42],[20,43],[25,44],[30,44],[35,44],[40,44],[42,42],[36,36],[30,32],[25,33],[20,35],[16,38],[10,41],[3,44.5]]];
const f3_TH_core = [[[15,15],[16,20],[18,25],[20,29],[23,32],[27,35],[31,37],[35,39],[39,41],[43,43],[45,45],[15,15]]];

const panelData = {
  a1: [a1_DJ, a1_TH, a1_DJ_core, a1_TH_core],
  a2: [a2_DJ, a2_TH, a2_DJ_core, a2_TH_core],
  a3: [a3_DJ, a3_TH, a3_DJ_core, a3_TH_core],
  b1: [b1_DJ, b1_TH, b1_DJ_core, b1_TH_core],
  b2: [b2_DJ, b2_TH, b2_DJ_core, b2_TH_core],
  b3: [b3_DJ, b3_TH, b3_DJ_core, b3_TH_core],
  c1: [c1_DJ, c1_TH, c1_DJ_core, c1_TH_core],
  c2: [c2_DJ, c2_TH, c2_DJ_core, c2_TH_core],
  c3: [c3_DJ, c3_TH, c3_DJ_core, c3_TH_core],
  d1: [d1_DJ, d1_TH, d1_DJ_core, d1_TH_core],
  d2: [d2_DJ, d2_TH, d2_DJ_core, d2_TH_core],
  d3: [d3_DJ, d3_TH, d3_DJ_core, d3_TH_core],
  e1a: [e1a_DJ, e1a_TH, e1a_DJ_core, e1a_TH_core],
  e1b: [e1b_DJ, e1b_TH, e1b_DJ_core, e1b_TH_core],
  e1c: [e1c_DJ, e1c_TH, e1c_DJ_core, e1c_TH_core],
  f1: [f1_DJ, f1_TH, f1_DJ_core, f1_TH_core],
  f2: [f2_DJ, f2_TH, f2_DJ_core, f2_TH_core],
  f3: [f3_DJ, f3_TH, f3_DJ_core, f3_TH_core]
};

// ---- layout ----
const plotLeft = [52, 577, 1098];
const plotTop = [10, 401, 788, 1180, 1575, 1967];
const plotW = 403, plotH = 315;
const padL = 52, padR = 14, padT = 12, padB = 48;

const RED = 'rgb(255,0,0)', BLUE = 'rgb(0,0,255)';
const RED_LINE = 'rgb(240,80,80)', BLUE_LINE = 'rgb(80,80,235)';

const toXY = arr => arr.map(p => ({x: p[0], y: p[1]}));

function lineDs(pts, color) {
  return { type: 'line', data: toXY(pts), borderColor: color, borderWidth: 1.3,
           pointRadius: 0, fill: false, tension: 0, order: 10 };
}
// dense part of a cloud: filled shape with a beaded (dotted) outline
function areaDs(pts, color, order) {
  return { type: 'line', data: toXY(pts), borderColor: color, borderWidth: 4.2,
           borderDash: [0.1, 4.6], borderCapStyle: 'round', borderJoinStyle: 'round',
           backgroundColor: color, pointRadius: 0, fill: 'shape', tension: 0, order: order };
}
function pointDs(pts, color, order) {
  return { data: toXY(pts), backgroundColor: color, borderWidth: 0,
           pointRadius: 2.2, pointHoverRadius: 2.2, order: order };
}

// draw a string made of pieces (for the subscript B)
function drawPieces(ctx, pieces, x0, y0) {
  let x = x0;
  pieces.forEach(p => {
    ctx.font = p.font;
    ctx.fillText(p.text, x, y0 + p.dy);
    x += ctx.measureText(p.text).width;
  });
}
function piecesWidth(ctx, pieces) {
  let w = 0;
  pieces.forEach(p => { ctx.font = p.font; w += ctx.measureText(p.text).width; });
  return w;
}

// inward ticks, legend box, panel label and axis titles
const panelDeco = {
  id: 'panelDeco',
  afterDraw(chart, args, opts) {
    const {ctx, chartArea: a, scales} = chart;
    const sx = scales.x, sy = scales.y;
    ctx.save();
    ctx.strokeStyle = '#000';
    ctx.lineWidth = 1;
    sx.ticks.forEach(t => {
      const px = Math.round(sx.getPixelForValue(t.value)) + 0.5;
      ctx.beginPath(); ctx.moveTo(px, a.bottom); ctx.lineTo(px, a.bottom - 4); ctx.stroke();
    });
    sy.ticks.forEach(t => {
      const py = Math.round(sy.getPixelForValue(t.value)) + 0.5;
      ctx.beginPath(); ctx.moveTo(a.left, py); ctx.lineTo(a.left + 4, py); ctx.stroke();
    });

    // legend
    const bx = a.right - 77, by = a.top + 6, bw = 72, bh = 40;
    ctx.fillStyle = '#fff';
    ctx.fillRect(bx, by, bw, bh);
    ctx.strokeStyle = '#555';
    ctx.lineWidth = 1;
    ctx.strokeRect(bx + 0.5, by + 0.5, bw, bh);
    ctx.strokeStyle = '#222';
    ctx.lineWidth = 2;
    ctx.beginPath();
    if (opts.narrow) {
      ctx.moveTo(bx, by + 1); ctx.lineTo(bx + bw + 1, by + 1);
    } else {
      ctx.moveTo(bx + bw + 1, by + 1); ctx.lineTo(bx + bw + 1, by + bh + 1);
    }
    ctx.moveTo(bx, by + bh + 1); ctx.lineTo(bx + bw + 1, by + bh + 1);
    ctx.stroke();
    ctx.font = '12px "Liberation Sans", Arial, sans-serif';
    ctx.textBaseline = 'middle';
    ctx.textAlign = 'left';
    [['D-J', RED], ['T-H', BLUE]].forEach((e, k) => {
      const ry = by + 12 + k * 17;
      ctx.fillStyle = e[1];
      ctx.beginPath(); ctx.arc(bx + 26, ry, 2, 0, Math.PI * 2); ctx.fill();
      ctx.fillStyle = '#111';
      ctx.fillText(e[0], bx + 49, ry + 1);
    });

    // panel label
    ctx.fillStyle = '#000';
    ctx.font = 'italic bold 26px "Liberation Serif", "Times New Roman", serif';
    ctx.textAlign = 'right';
    ctx.textBaseline = 'alphabetic';
    ctx.fillText(opts.label, a.right - 36, a.bottom - 36);

    // axis titles
    const F = '14px "Liberation Sans", Arial, sans-serif';
    const SF = '10px "Liberation Sans", Arial, sans-serif';
    ctx.textAlign = 'left';
    ctx.textBaseline = 'middle';
    ctx.fillStyle = '#111';
    const xt = [{text: 'Δα', font: F, dy: 0}, {text: 'B', font: SF, dy: 4}, {text: '(in degrees)', font: F, dy: 0}];
    const xw = piecesWidth(ctx, xt);
    drawPieces(ctx, xt, (a.left + a.right) / 2 - 2 - xw / 2, a.bottom + 32);
    const yt = [{text: 'α', font: F, dy: 0}, {text: 'B', font: SF, dy: 4}, {text: '(in degrees)', font: F, dy: 0}];
    const yw = piecesWidth(ctx, yt);
    ctx.translate(a.left - 38, (a.top + a.bottom) / 2);
    ctx.rotate(-Math.PI / 2);
    drawPieces(ctx, yt, -yw / 2, 0);
    ctx.restore();
  }
};

const wrap = document.getElementById('wrap');

function makeChart(i) {
  const id = panelIds[i];
  const row = Math.floor(i / 3), col = i % 3;
  const [dj, th, djCore, thCore] = panelData[id];
  const narrow = row > 0;
  const xMax = col === 0 ? 50 : 45;
  const xTicks = col === 0 ? xTicksWide : xTicksNarrow;

  const W = plotW + padL + padR, H = plotH + padT + padB;
  const cv = document.createElement('canvas');
  cv.width = W; cv.height = H;
  cv.style.left = (plotLeft[col] - padL) + 'px';
  cv.style.top = (plotTop[row] - padT) + 'px';
  cv.style.width = W + 'px';
  cv.style.height = H + 'px';
  wrap.appendChild(cv);

  const datasets = [lineDs(redTriangle, RED_LINE), lineDs(blueTriangle, BLUE_LINE)];
  djCore.forEach(p => datasets.push(areaDs(p, RED, 9)));
  thCore.forEach(p => datasets.push(areaDs(p, BLUE, 8)));
  datasets.push(pointDs(dj, RED, 7));
  datasets.push(pointDs(th, BLUE, 6));

  const tickFont = {family: '"Liberation Sans", Arial, sans-serif', size: 12};

  new Chart(cv, {
    type: 'scatter',
    data: { datasets: datasets },
    options: {
      responsive: false,
      animation: false,
      events: [],
      layout: { padding: { left: 0, right: padR, top: padT, bottom: 0 } },
      plugins: {
        legend: { display: false },
        tooltip: { enabled: false },
        panelDeco: { label: panelLabels[i], narrow: narrow }
      },
      scales: {
        x: {
          type: 'linear', min: -45, max: xMax,
          grid: { display: false },
          border: { display: true, color: '#000', width: narrow ? 2 : 1 },
          ticks: { font: tickFont, color: '#111', padding: 2, maxRotation: 0, autoSkip: false },
          afterBuildTicks: s => { s.ticks = xTicks.map(v => ({value: v})); },
          afterFit: s => { s.height = padB; }
        },
        y: {
          type: 'linear', min: 0, max: 90,
          grid: { display: false },
          border: { display: true, color: '#000', width: 1 },
          ticks: { font: tickFont, color: '#111', padding: 5, autoSkip: false },
          afterBuildTicks: s => { s.ticks = yTicks.map(v => ({value: v})); },
          afterFit: s => { s.width = padL; }
        }
      }
    },
    plugins: [panelDeco]
  });
}

for (let i = 0; i < panelIds.length; i++) makeChart(i);
</script>
</body>
</html>
